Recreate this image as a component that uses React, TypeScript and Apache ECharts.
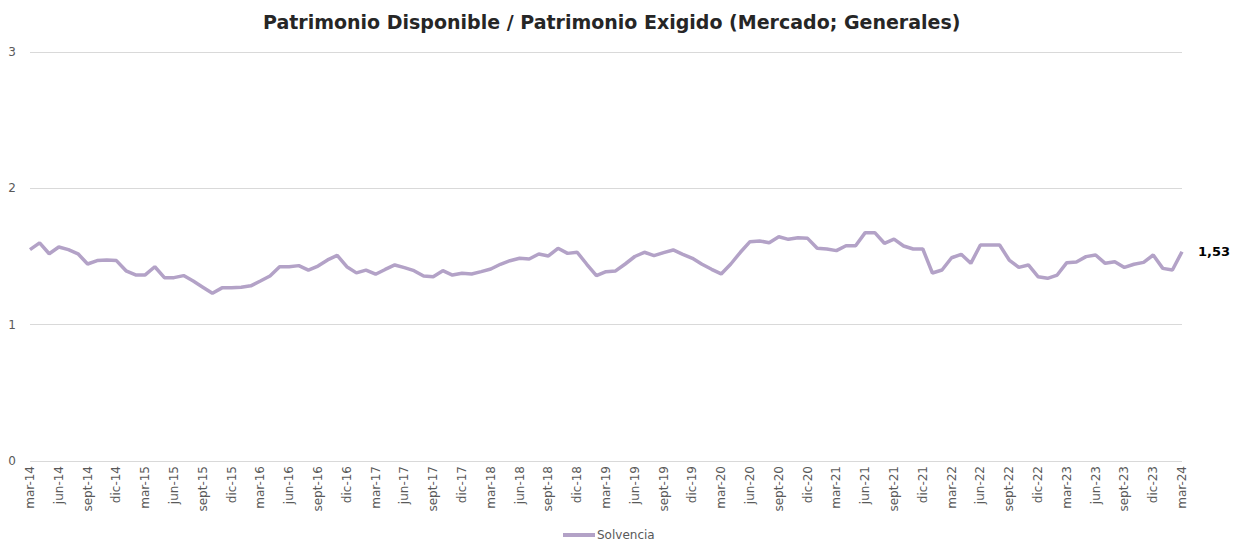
import React, { useEffect, useRef } from "react";
import * as echarts from "echarts";

const monthNames = ["ene", "feb", "mar", "abr", "may", "jun", "jul", "ago", "sept", "oct", "nov", "dic"];
const startYear = 2014;
const startMonth = 2; // mar
const solvencia = [
  1.55, 1.6, 1.52, 1.57, 1.55, 1.52, 1.445, 1.47, 1.475, 1.47,
  1.395, 1.365, 1.365, 1.425, 1.345, 1.345, 1.36, 1.32, 1.275, 1.23,
  1.27, 1.27, 1.275, 1.285, 1.32, 1.357, 1.425, 1.425, 1.433, 1.4,
  1.43, 1.475, 1.508, 1.425, 1.38, 1.4, 1.37, 1.405, 1.438, 1.418,
  1.396, 1.357, 1.352, 1.396, 1.364, 1.377, 1.372, 1.389, 1.408, 1.443,
  1.469, 1.487, 1.482, 1.518, 1.504, 1.56, 1.523, 1.531, 1.443, 1.359,
  1.389, 1.394, 1.445, 1.5, 1.531, 1.506, 1.528, 1.548, 1.516, 1.487,
  1.443, 1.406, 1.372, 1.445, 1.531, 1.609, 1.614, 1.601, 1.645, 1.626,
  1.638, 1.633, 1.56, 1.555, 1.543, 1.579, 1.579, 1.675, 1.675, 1.597,
  1.628, 1.577, 1.555, 1.555, 1.379, 1.401, 1.491, 1.516, 1.45, 1.584,
  1.584, 1.584, 1.474, 1.42, 1.438, 1.352, 1.34, 1.364, 1.455, 1.46,
  1.499, 1.511, 1.45, 1.462, 1.42, 1.443, 1.457, 1.511, 1.413, 1.401,
  1.535,
];
const categories = solvencia.map((_, i) => {
  const m = startMonth + i;
  const y = startYear + Math.floor(m / 12);
  return `${monthNames[m % 12]}-${String(y).slice(2)}`;
});

const FONT = "'Century Gothic', 'DejaVu Sans', sans-serif";

export default function App() {
  const ref = useRef<HTMLDivElement>(null);
  useEffect(() => {
    document.body.style.margin = "0";
    if (!ref.current) return;
    const chart = echarts.init(ref.current, null, { renderer: "svg" });
    chart.setOption({
      animation: false,
      textStyle: { fontFamily: FONT },
      title: {
        text: "Patrimonio Disponible / Patrimonio Exigido (Mercado; Generales)",
        left: 258,
        top: 7,
        textStyle: { fontFamily: FONT, fontSize: 19, fontWeight: "bold", color: "#262626" },
      },
      legend: {
        bottom: 2,
        left: 558,
        itemWidth: 32,
        itemHeight: 4,
        icon: "rect",
        itemGap: 4,
        textStyle: { fontFamily: FONT, fontSize: 12, color: "#595959", padding: [0, 0, 0, -3] },
        data: ["Solvencia"],
      },
      grid: { left: 30, right: 54, top: 52, bottom: 87, containLabel: false },
      xAxis: {
        type: "category",
        data: categories,
        boundaryGap: false,
        axisLine: { show: false },
        axisTick: { show: false },
        axisLabel: {
          interval: 2,
          rotate: 90,
          margin: 5,
          fontFamily: FONT,
          fontSize: 12,
          color: "#595959",
        },
      },
      yAxis: {
        type: "value",
        min: 0,
        max: 3,
        interval: 1,
        axisLine: { show: false },
        axisTick: { show: false },
        splitLine: { lineStyle: { color: "#d9d9d9", width: 1 } },
        axisLabel: { margin: 14, fontFamily: FONT, fontSize: 12, color: "#595959" },
      },
      series: [
        {
          name: "Solvencia",
          type: "line",
          data: solvencia,
          symbol: "none",
          lineStyle: { color: "#b3a2c7", width: 3.5 },
          itemStyle: { color: "#b3a2c7" },
          endLabel: {
            show: true,
            distance: 16,
            formatter: (p: any) => Number(p.value).toFixed(2).replace(".", ","),
            fontFamily: FONT,
            fontSize: 13,
            fontWeight: "bold",
            color: "#000000",
          },
        },
      ],
    });
    return () => chart.dispose();
  }, []);
  return <div ref={ref} style={{ width: 1236, height: 548 }} />;
}
